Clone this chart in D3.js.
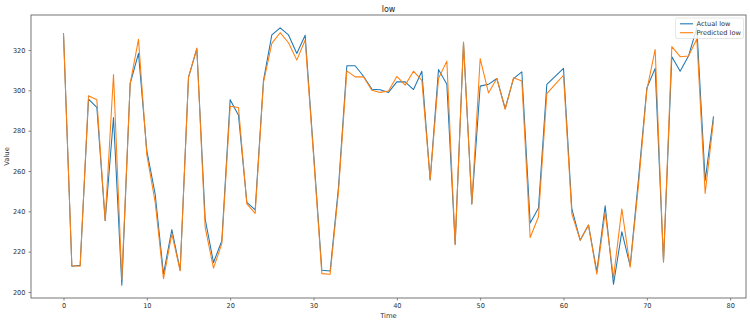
<!DOCTYPE html>
<html>
<head>
<meta charset="utf-8">
<script src="https://cdn.jsdelivr.net/npm/d3@7/dist/d3.min.js"></script>
<style>
  html, body { margin: 0; padding: 0; background: #fff; }
  svg { display: block; font-family: "DejaVu Sans", sans-serif; }
</style>
</head>
<body>
<svg id="chart" width="750" height="323"></svg>
<script>
const titleText = "low";
const xLabel = "Time";
const yLabel = "Value";
const seriesNames = ["Actual low", "Predicted low"];
const seriesColors = ["#1f77b4", "#ff7f0e"];
const xTicks = [0, 10, 20, 30, 40, 50, 60, 70, 80];
const yTicks = [200, 220, 240, 260, 280, 300, 320];

const actual = [
  328.3, 212.8, 213.3, 295.6, 291.6, 235.3, 286.5, 203.4, 303.4, 318.3,
  270.0, 248.5, 208.9, 231.0, 210.8, 306.4, 320.6, 236.2, 214.6, 225.4,
  295.4, 287.6, 244.5, 240.7, 305.0, 327.5, 331.0, 327.5, 318.3, 327.3,
  269.5, 210.8, 210.4, 252.0, 312.2, 312.2, 307.0, 300.6, 300.3, 299.0,
  304.2, 304.2, 300.4, 309.5, 255.5, 310.3, 303.0, 223.7, 323.5, 243.7,
  302.1, 303.0, 305.9, 291.0, 305.8, 309.2, 234.2, 241.6, 303.0, 307.0,
  310.9, 241.2, 225.7, 233.2, 210.1, 242.8, 203.8, 229.9, 212.9, 256.0,
  301.2, 310.9, 215.0, 316.7, 309.5, 317.0, 331.0, 255.3, 287.1
];
const predicted = [
  328.3, 213.0, 212.8, 297.3, 295.3, 235.5, 307.9, 206.3, 303.4, 325.3,
  268.0, 244.5, 206.6, 228.8, 210.5, 306.5, 321.0, 232.0, 211.8, 224.0,
  292.1, 291.5, 243.7, 239.0, 304.0, 323.3, 328.6, 323.6, 315.0, 325.0,
  268.0, 209.1, 208.8, 250.0, 309.7, 306.7, 306.8, 300.1, 299.0, 299.7,
  306.9, 302.6, 309.5, 305.0, 255.8, 305.9, 314.5, 223.5, 324.0, 243.7,
  315.8, 298.7, 305.9, 290.6, 306.2, 304.7, 227.0, 237.3, 298.4, 303.0,
  307.5, 238.7, 225.7, 233.2, 208.8, 239.5, 207.1, 241.2, 212.3, 253.0,
  300.1, 320.3, 214.8, 321.7, 316.7, 317.0, 325.5, 248.9, 285.1
];

const svg = d3.select("#chart");
const margin = { left: 31, right: 4, top: 15, bottom: 25 };
const W = 750, H = 323;
const x0 = margin.left, x1 = W - margin.right, y0 = margin.top, y1 = H - margin.bottom;

const n = actual.length;
const xPad = (n - 1) * 0.05;
const x = d3.scaleLinear().domain([-xPad, n - 1 + xPad]).range([x0, x1]);
const all = actual.concat(predicted);
const lo = d3.min(all), hi = d3.max(all);
const yPad = (hi - lo) * 0.05;
const y = d3.scaleLinear().domain([lo - yPad, hi + yPad]).range([y1, y0]);

// series
const line = d3.line().x((d, i) => x(i)).y(d => y(d));
const g = svg.append("g");
[actual, predicted].forEach((s, k) => {
  g.append("path").datum(s)
    .attr("d", line)
    .attr("fill", "none")
    .attr("stroke", seriesColors[k])
    .attr("stroke-width", 1.05)
    .attr("stroke-linejoin", "round");
});

// axes
const xAxis = d3.axisBottom(x).tickValues(xTicks).tickSize(2.5).tickPadding(2.5).tickFormat(d3.format("d"));
const yAxis = d3.axisLeft(y).tickValues(yTicks).tickSize(2.5).tickPadding(3).tickFormat(d3.format("d"));
const gx = svg.append("g").attr("transform", `translate(0,${y1})`).call(xAxis);
const gy = svg.append("g").attr("transform", `translate(${x0},0)`).call(yAxis);
[gx, gy].forEach(a => {
  a.select(".domain").remove();
  a.selectAll("line").attr("stroke", "#555").attr("stroke-width", 0.7);
  a.selectAll("text").attr("fill", "#333").style("font-size", "6.6px").style("font-family", "DejaVu Sans, sans-serif");
});

// frame
svg.append("rect")
  .attr("x", x0).attr("y", y0)
  .attr("width", x1 - x0).attr("height", y1 - y0)
  .attr("fill", "none").attr("stroke", "#666").attr("stroke-width", 0.9);

// title and labels
svg.append("text").attr("x", (x0 + x1) / 2).attr("y", 11.5)
  .attr("text-anchor", "middle").style("font-size", "8px").attr("fill", "#222").text(titleText);
svg.append("text").attr("x", (x0 + x1) / 2).attr("y", 318)
  .attr("text-anchor", "middle").style("font-size", "6.8px").attr("fill", "#333").text(xLabel);
svg.append("text").attr("transform", `translate(8.5,${(y0 + y1) / 2}) rotate(-90)`)
  .attr("text-anchor", "middle").style("font-size", "6.8px").attr("fill", "#333").text(yLabel);

// legend
const lg = svg.append("g");
lg.append("rect").attr("x", 675.5).attr("y", 18).attr("width", 68).attr("height", 20.5)
  .attr("rx", 1.5).attr("fill", "#fff").attr("fill-opacity", 0.8)
  .attr("stroke", "#ddd").attr("stroke-width", 0.7);
seriesNames.forEach((name, k) => {
  const yy = 23.8 + k * 8.9;
  lg.append("line").attr("x1", 680).attr("x2", 693).attr("y1", yy).attr("y2", yy)
    .attr("stroke", seriesColors[k]).attr("stroke-width", 1.1);
  lg.append("text").attr("x", 696.5).attr("y", yy + 2.3)
    .style("font-size", "6.6px").attr("fill", "#333").text(name);
});
</script>
</body>
</html>
